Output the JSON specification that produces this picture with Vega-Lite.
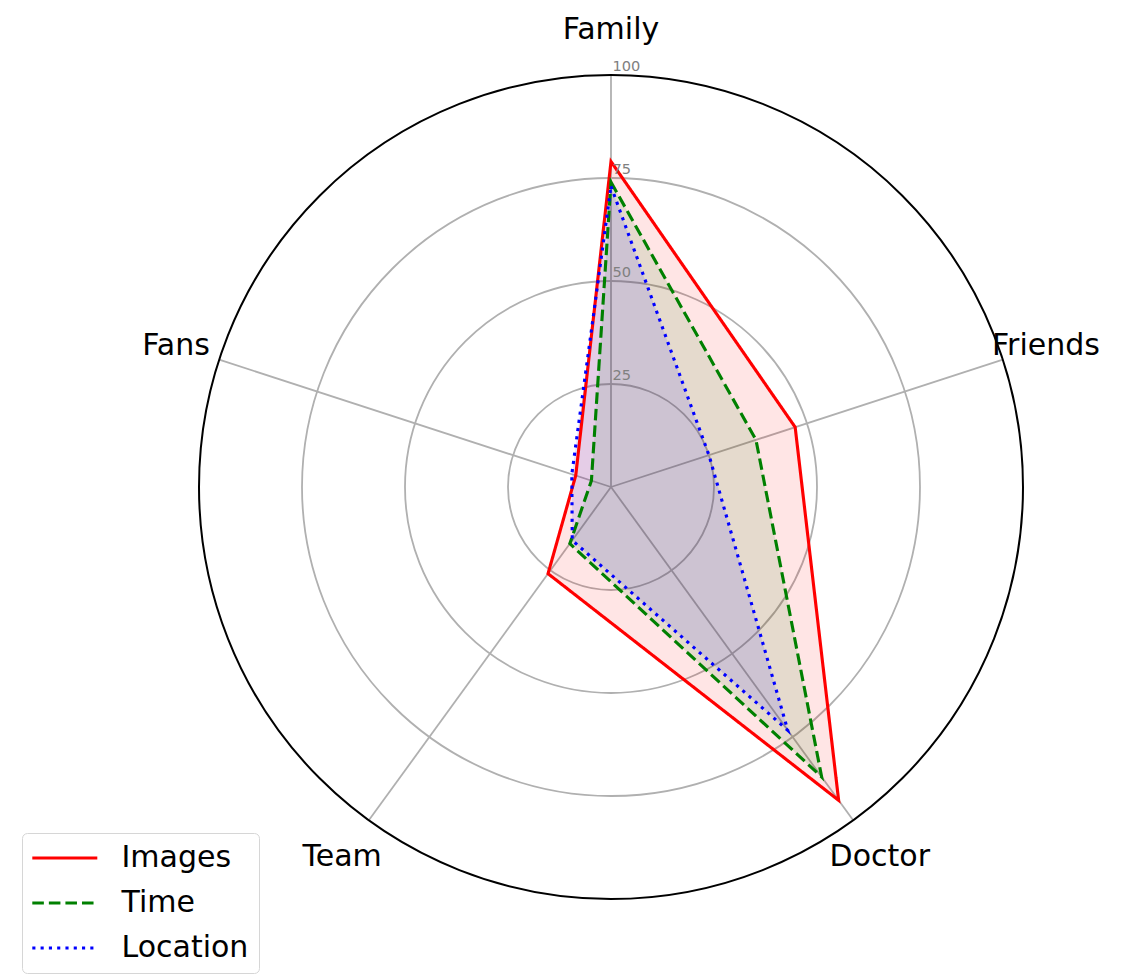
{
  "$schema": "https://vega.github.io/schema/vega-lite/v6.json",
  "width": 824,
  "height": 824,
  "autosize": {"type": "none"},
  "padding": {"left": 199, "top": 75, "right": 112, "bottom": 75},
  "background": "white",
  "config": {
    "view": {"stroke": null},
    "font": "DejaVu Sans",
    "text": {"font": "DejaVu Sans"},
    "legend": {
      "orient": "none", "legendX": -177, "legendY": 758, "title": null,
      "symbolType": "M-3.25,0H3.25", "symbolSize": 400, "symbolStrokeWidth": 3.125,
      "labelFontSize": 30, "labelFont": "DejaVu Sans", "labelColor": "#000000", "labelLimit": 400,
      "labelOffset": 41.7, "rowPadding": 15, "padding": 10, "symbolOffset": 17.8,
      "strokeColor": "#d6d6d6", "fillColor": "rgba(255,255,255,0.8)", "cornerRadius": 5
    }
  },
  "datasets": {
    "scores": [
      {"series": "Images", "category": "Family", "order": 0, "value": 79},
      {"series": "Images", "category": "Friends", "order": 1, "value": 47},
      {"series": "Images", "category": "Doctor", "order": 2, "value": 94},
      {"series": "Images", "category": "Team", "order": 3, "value": 26},
      {"series": "Images", "category": "Fans", "order": 4, "value": 9},
      {"series": "Time", "category": "Family", "order": 0, "value": 74},
      {"series": "Time", "category": "Friends", "order": 1, "value": 37},
      {"series": "Time", "category": "Doctor", "order": 2, "value": 87},
      {"series": "Time", "category": "Team", "order": 3, "value": 17},
      {"series": "Time", "category": "Fans", "order": 4, "value": 5},
      {"series": "Location", "category": "Family", "order": 0, "value": 73},
      {"series": "Location", "category": "Friends", "order": 1, "value": 25},
      {"series": "Location", "category": "Doctor", "order": 2, "value": 73},
      {"series": "Location", "category": "Team", "order": 3, "value": 16},
      {"series": "Location", "category": "Fans", "order": 4, "value": 10}
    ],
    "axes": [
      {"category": "Family", "order": 0},
      {"category": "Friends", "order": 1},
      {"category": "Doctor", "order": 2},
      {"category": "Team", "order": 3},
      {"category": "Fans", "order": 4}
    ],
    "rings": [{"r": 25}, {"r": 50}, {"r": 75}, {"r": 100}]
  },
  "layer": [
    {
      "data": {"name": "rings"},
      "transform": [{"filter": "datum.r < 100"}],
      "mark": {"type": "point", "shape": "circle", "filled": false, "stroke": "#b0b0b0", "strokeWidth": 1.8, "opacity": 1},
      "encoding": {
        "x": {"datum": 0, "type": "quantitative", "scale": {"domain": [-100, 100], "nice": false}, "axis": null},
        "y": {"datum": 0, "type": "quantitative", "scale": {"domain": [-100, 100], "nice": false}, "axis": null},
        "size": {"field": "r", "type": "quantitative", "scale": {"type": "pow", "exponent": 2, "domain": [0, 100], "range": [0, 678976], "zero": true}, "legend": null}
      }
    },
    {
      "data": {"name": "axes"},
      "transform": [
        {"calculate": "datum.order * 2 * PI / 5", "as": "a"},
        {"calculate": "100 * sin(datum.a)", "as": "ex"},
        {"calculate": "100 * cos(datum.a)", "as": "ey"},
        {"calculate": "0", "as": "cx"}
      ],
      "mark": {"type": "rule", "color": "#b0b0b0", "strokeWidth": 1.8},
      "encoding": {
        "x": {"field": "cx", "type": "quantitative", "scale": {"domain": [-100, 100], "nice": false}, "axis": null},
        "y": {"field": "cx", "type": "quantitative", "scale": {"domain": [-100, 100], "nice": false}, "axis": null},
        "x2": {"field": "ex"},
        "y2": {"field": "ey"}
      }
    },
    {
      "data": {"name": "scores"},
      "transform": [
        {"calculate": "datum.order * 2 * PI / 5", "as": "a"},
        {"calculate": "datum.value * sin(datum.a)", "as": "px"},
        {"calculate": "datum.value * cos(datum.a)", "as": "py"}
      ],
      "mark": {"type": "line", "interpolate": "linear-closed", "filled": true, "fillOpacity": 0.1},
      "encoding": {
        "x": {"field": "px", "type": "quantitative", "scale": {"domain": [-100, 100], "nice": false}, "axis": null},
        "y": {"field": "py", "type": "quantitative", "scale": {"domain": [-100, 100], "nice": false}, "axis": null},
        "fill": {"field": "series", "type": "nominal", "scale": {"domain": ["Location", "Time", "Images"], "range": ["#0000ff", "#008000", "#ff0000"]}, "legend": null},
        "order": {"field": "order", "type": "quantitative"}
      }
    },
    {
      "data": {"name": "scores"},
      "transform": [
        {"calculate": "datum.order * 2 * PI / 5", "as": "a"},
        {"calculate": "datum.value * sin(datum.a)", "as": "px"},
        {"calculate": "datum.value * cos(datum.a)", "as": "py"}
      ],
      "mark": {"type": "line", "interpolate": "linear-closed", "strokeWidth": 3.125},
      "encoding": {
        "x": {"field": "px", "type": "quantitative", "scale": {"domain": [-100, 100], "nice": false}, "axis": null},
        "y": {"field": "py", "type": "quantitative", "scale": {"domain": [-100, 100], "nice": false}, "axis": null},
        "color": {
          "field": "series", "type": "nominal",
          "scale": {"domain": ["Images", "Time", "Location"], "range": ["#ff0000", "#008000", "#0000ff"]},
          "legend": {"title": null}
        },
        "strokeDash": {
          "field": "series", "type": "nominal",
          "scale": {"domain": ["Images", "Time", "Location"], "range": [[1, 0], [11.56, 5], [3.125, 5.16]]},
          "legend": {"title": null}
        },
        "order": {"field": "order", "type": "quantitative"}
      }
    },
    {
      "data": {"name": "rings"},
      "transform": [{"filter": "datum.r == 100"}],
      "mark": {"type": "point", "shape": "circle", "filled": false, "stroke": "#000000", "strokeWidth": 2, "opacity": 1},
      "encoding": {
        "x": {"datum": 0, "type": "quantitative", "scale": {"domain": [-100, 100], "nice": false}, "axis": null},
        "y": {"datum": 0, "type": "quantitative", "scale": {"domain": [-100, 100], "nice": false}, "axis": null},
        "size": {"field": "r", "type": "quantitative", "scale": {"type": "pow", "exponent": 2, "domain": [0, 100], "range": [0, 678976], "zero": true}, "legend": null}
      }
    },
    {
      "data": {"name": "rings"},
      "mark": {"type": "text", "align": "left", "baseline": "alphabetic", "dx": 1.5, "dy": -4, "fontSize": 14.6, "color": "#808080", "font": "DejaVu Sans"},
      "encoding": {
        "x": {"datum": 0, "type": "quantitative", "scale": {"domain": [-100, 100], "nice": false}, "axis": null},
        "y": {"field": "r", "type": "quantitative", "scale": {"domain": [-100, 100], "nice": false}, "axis": null},
        "text": {"field": "r", "type": "quantitative"}
      }
    },
    {
      "data": {"name": "axes"},
      "transform": [
        {"calculate": "datum.order * 2 * PI / 5", "as": "a"},
        {"calculate": "111 * sin(datum.a)", "as": "lx"},
        {"calculate": "111 * cos(datum.a)", "as": "ly"}
      ],
      "mark": {"type": "text", "align": "center", "baseline": "middle", "fontSize": 30, "color": "#000000", "font": "DejaVu Sans"},
      "encoding": {
        "x": {"field": "lx", "type": "quantitative", "scale": {"domain": [-100, 100], "nice": false}, "axis": null},
        "y": {"field": "ly", "type": "quantitative", "scale": {"domain": [-100, 100], "nice": false}, "axis": null},
        "text": {"field": "category", "type": "nominal"}
      }
    }
  ]
}
